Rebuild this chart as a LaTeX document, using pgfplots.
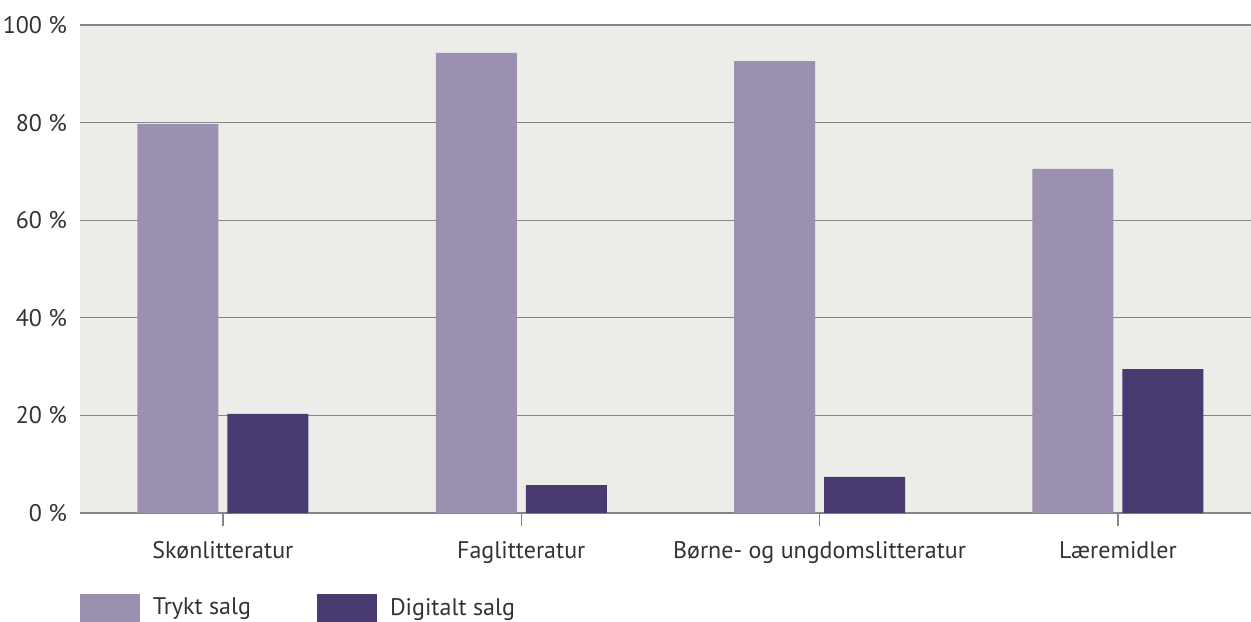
\documentclass[border=0pt]{standalone}
\usepackage{pgfplots}
\pgfplotsset{compat=1.18}
\usepackage{fontspec}
\setmainfont{PT Sans}
\definecolor{bgc}{HTML}{ECECE8}
\definecolor{trykt}{HTML}{9B90B0}
\definecolor{digital}{HTML}{48396E}
\definecolor{gridc}{HTML}{858585}
\definecolor{txt}{HTML}{333333}
\begin{document}
\begin{tikzpicture}
\begin{axis}[
  scale only axis,
  width=585.5bp, height=244bp,
  xmin=-0.479, xmax=3.446,
  ymin=0, ymax=100,
  axis background/.style={fill=bgc},
  axis x line*=bottom,
  axis y line*=left,
  y axis line style={draw=none},
  x axis line style={draw=gridc, line width=0.6bp, -},
  ymajorgrids,
  grid style={draw=gridc, line width=0.6bp},
  xtick={0,1,2,3},
  xticklabels={Skønlitteratur,Faglitteratur,Børne- og ungdomslitteratur,Læremidler},
  ytick={0,20,40,60,80,100},
  yticklabel={\pgfmathprintnumber{\tick}\ \%},
  /pgf/number format/assume math mode=true,
  tick align=outside,
  xtick style={draw=gridc, line width=0.6bp},
  major tick length=6.5bp,
  ytick style={draw=none},
  ticklabel style={font=\fontsize{12bp}{14bp}\selectfont, text=txt},
  yticklabel style={xshift=3.5bp},
  xticklabel style={yshift=-4bp},
  ybar, 
  bar width=40.5bp,
  legend style={at={(axis description cs:0,-0.166)}, anchor=north west, draw=none, fill=none, inner sep=0pt, outer sep=0pt,
    font=\fontsize{12bp}{14bp}\selectfont, text=txt, legend columns=2,
    /tikz/every odd column/.append style={column sep=4.5bp},
    /tikz/every even column/.append style={column sep=31bp}},
  legend image code/.code={\fill[#1] (0bp,-7bp) rectangle (30bp,7bp);},
]
\addplot[fill=trykt, draw=none, bar shift=-22.5bp] coordinates {(0,79.7) (1,94.3) (2,92.6) (3,70.5)};
\addplot[fill=digital, draw=none, bar shift=22.5bp] coordinates {(0,20.3) (1,5.7) (2,7.4) (3,29.5)};
\legend{Trykt salg, Digitalt salg}
\end{axis}
\pgfresetboundingbox
\path (-40bp,-54.5bp) rectangle (585.5bp,256.5bp);
\end{tikzpicture}
\end{document}
